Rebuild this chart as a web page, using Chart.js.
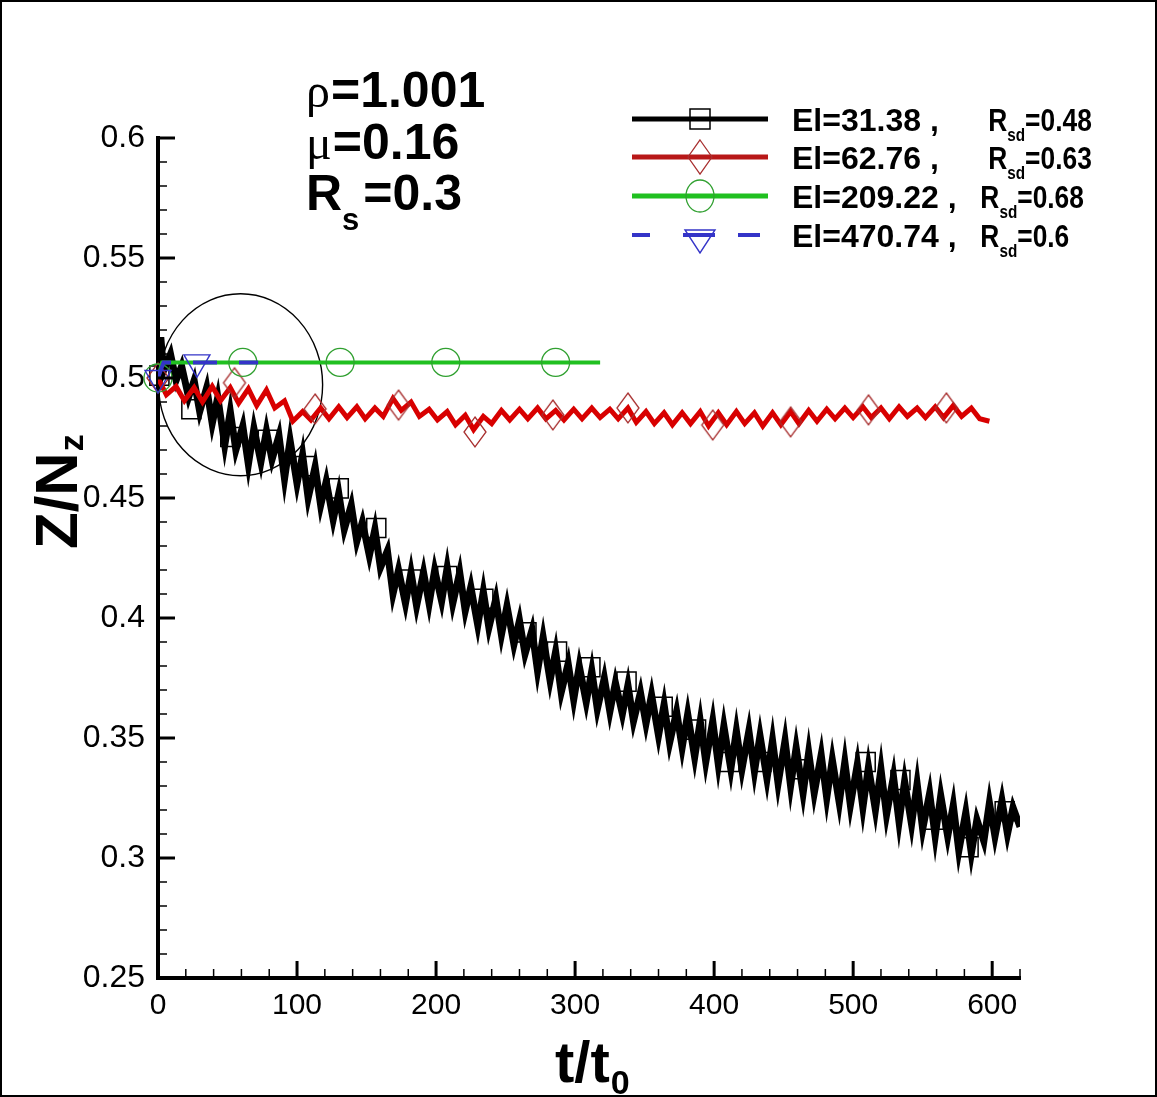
<!DOCTYPE html>
<html><head><meta charset="utf-8">
<script src="https://cdn.jsdelivr.net/npm/chart.js@4.4.1/dist/chart.umd.min.js"></script>
<style>html,body{margin:0;padding:0;background:#fff;}canvas{display:block;}</style>
</head><body>
<canvas id="c" width="1157" height="1097"></canvas>
<script>
// ---------------- DATA ----------------
const blackT = [0,2,4,9,13,17,22,26,30,35,39,43,48,52,56,61,65,69,74,78,82,87,91,95,100,104,108,113,117,121,126,130,134,139,143,147,152,156,160,165,169,173,178,182,186,191,195,199,204,208,212,217,221,225,230,234,238,243,247,251,256,260,264,269,273,277,282,286,290,295,299,303,308,312,316,321,325,329,334,338,342,347,351,355,360,364,368,373,377,381,386,390,394,399,403,407,412,416,420,425,429,433,438,442,446,451,455,459,464,468,472,477,481,485,490,494,498,503,507,511,516,520,524,529,533,537,542,546,550,555,559,563,568,572,576,581,585,589,594,598,602,607,611,615,620];
const blackZ = [0.500,0.517,0.503,0.510,0.499,0.505,0.492,0.499,0.486,0.496,0.481,0.492,0.472,0.486,0.470,0.480,0.464,0.479,0.465,0.478,0.466,0.476,0.458,0.474,0.456,0.468,0.450,0.463,0.447,0.457,0.441,0.452,0.437,0.447,0.432,0.440,0.426,0.437,0.421,0.428,0.410,0.420,0.406,0.419,0.405,0.419,0.406,0.420,0.407,0.421,0.406,0.419,0.403,0.413,0.397,0.411,0.396,0.408,0.393,0.405,0.389,0.399,0.385,0.395,0.378,0.392,0.374,0.386,0.369,0.381,0.366,0.380,0.365,0.378,0.362,0.375,0.361,0.373,0.360,0.372,0.357,0.369,0.356,0.368,0.351,0.364,0.348,0.361,0.346,0.360,0.342,0.357,0.340,0.357,0.339,0.355,0.337,0.353,0.337,0.353,0.336,0.351,0.333,0.349,0.331,0.349,0.330,0.346,0.327,0.344,0.327,0.343,0.325,0.341,0.323,0.340,0.322,0.339,0.321,0.338,0.320,0.337,0.318,0.334,0.315,0.332,0.314,0.331,0.312,0.327,0.309,0.326,0.309,0.322,0.303,0.319,0.302,0.316,0.307,0.323,0.309,0.324,0.310,0.321,0.313];
const blackMarkT = [1,24,52,79,106,130,157,182,208,234,265,287,311,337,363,387,411,434,460,509,534,558,583,609];
const blackMarkZ = [0.501,0.487,0.4754,0.4742,0.4633,0.454,0.4375,0.416,0.4175,0.408,0.394,0.386,0.3795,0.3735,0.363,0.3535,0.340,0.340,0.337,0.340,0.3325,0.316,0.3045,0.3195];

const redT = [0,6,13,19,26,32,39,45,52,58,65,71,78,84,91,97,104,110,117,123,130,136,143,149,156,162,169,175,182,188,195,201,208,214,221,227,234,240,247,253,260,266,273,279,286,292,299,305,312,318,325,331,338,344,351,357,364,370,377,383,390,396,403,409,416,422,429,435,442,448,455,461,468,474,481,487,494,500,507,513,520,526,533,539,546,552,559,565,572,578,585,591,598];
const redZ = [0.500,0.493,0.4965,0.4905,0.4960,0.4900,0.4965,0.4905,0.4960,0.4895,0.4955,0.4885,0.4950,0.4875,0.4905,0.4820,0.4860,0.4825,0.4875,0.4830,0.4880,0.4835,0.4880,0.4830,0.4875,0.4840,0.4915,0.4865,0.4900,0.4840,0.4870,0.4825,0.4860,0.4805,0.4845,0.4785,0.4840,0.4810,0.4865,0.4825,0.4870,0.4830,0.4875,0.4830,0.4865,0.4825,0.4870,0.4830,0.4875,0.4835,0.4870,0.4830,0.4875,0.4815,0.4860,0.4810,0.4855,0.4805,0.4855,0.4810,0.4860,0.4800,0.4855,0.4805,0.4860,0.4810,0.4855,0.4800,0.4855,0.4805,0.4860,0.4810,0.4865,0.4820,0.4870,0.4830,0.4875,0.4835,0.4880,0.4835,0.4875,0.4830,0.4880,0.4840,0.4875,0.4835,0.4880,0.4835,0.4885,0.4840,0.4875,0.4830,0.4820];
const redMarkT = [0,55,113,173,228,284,338,399,455,511,567];
const redMarkZ = [0.500,0.498,0.4871,0.4887,0.4775,0.4846,0.4875,0.4804,0.4817,0.4867,0.4875];

const greenT = [0,3,318];
const greenZ = [0.500,0.5065,0.5065];
const greenMarkT = [0,61,131,207,286];
const greenMarkZ = [0.500,0.5065,0.5065,0.5065,0.5065];

const blueT = [0,4,72];
const blueZ = [0.500,0.5065,0.5065];
const blueMarkT = [0,28];
const blueMarkZ = [0.500,0.5065];

const xTicks = [0,100,200,300,400,500,600];
const xMinor = [20,40,60,80,120,140,160,180,220,240,260,280,320,340,360,380,420,440,460,480,520,540,560,580,620];
const yTicks = [0.25,0.3,0.35,0.4,0.45,0.5,0.55,0.6];
const yTickLabels = ['0.25','0.3','0.35','0.4','0.45','0.5','0.55','0.6'];
const yMinor = [0.26,0.27,0.28,0.29,0.31,0.32,0.33,0.34,0.36,0.37,0.38,0.39,0.41,0.42,0.43,0.44,0.46,0.47,0.48,0.49,0.51,0.52,0.53,0.54,0.56,0.57,0.58,0.59];

const legendEl = ['El=31.38 ,     ','El=62.76 ,     ','El=209.22 ,  ','El=470.74 ,  '];
const legendRsd = ['=0.48','=0.63','=0.68','=0.6'];
const paramLines = [['\u03C1','=1.001'],['\u03BC','=0.16'],['R','=0.3']];
// highlighted region (ellipse) in data units: centre t, centre z, radius t, radius z
const highlight = {t:59.4, z:0.4972, rt:59, rz:0.0379};

// ---------------- STYLE ----------------
const SANS = '"Liberation Sans", Arial, sans-serif';
const SERIF = '"Liberation Serif", "DejaVu Serif", serif';
const C_BLACK='#000000', C_RED='#d80000', C_RED_M='#a83030', C_GREEN='#20c020', C_GREEN_M='#30a030', C_BLUE='#3434c8';

function diamondImg(w,h,color,lw){
  const c=document.createElement('canvas'); c.width=w+4; c.height=h+4;
  const g=c.getContext('2d'); g.strokeStyle=color; g.lineWidth=lw;
  g.beginPath(); g.moveTo(c.width/2,2); g.lineTo(c.width-2,c.height/2); g.lineTo(c.width/2,c.height-2); g.lineTo(2,c.height/2); g.closePath(); g.stroke();
  return c;
}
const diamondPlot = diamondImg(22,30,C_RED_M,1.3);

const xy = (ts,zs)=>ts.map((t,i)=>({x:t,y:zs[i]}));

const lineDs = (data,color,width,order,dash)=>({data,showLine:true,borderColor:color,borderWidth:width,pointRadius:0,pointHoverRadius:0,fill:false,tension:0,order,borderDash:dash||[],borderJoinStyle:'miter'});
const markDs = (data,style,radius,color,lw,order,rot)=>({data,showLine:false,pointStyle:style,pointRadius:radius,pointHoverRadius:radius,pointBorderColor:color,pointBackgroundColor:'rgba(0,0,0,0)',pointBorderWidth:lw,pointRotation:rot||0,order,clip:false});

function runs(ctx,x,y,parts){
  let cx=x;
  for(const p of parts){
    ctx.font=p.f; const sx=p.sx||1;
    ctx.save(); ctx.translate(cx,y+(p.dy||0)); ctx.scale(sx,1); ctx.fillText(p.t,0,0); ctx.restore();
    cx+=ctx.measureText(p.t).width*sx+(p.gap||0);
  }
  return cx;
}

const decor = {
  id:'decor',
  beforeDatasetsDraw(chart){
    const {ctx} = chart, xs=chart.scales.x, ys=chart.scales.y;
    const cx=xs.getPixelForValue(highlight.t), cy=ys.getPixelForValue(highlight.z);
    const rx=Math.abs(xs.getPixelForValue(highlight.t+highlight.rt)-cx);
    const ry=Math.abs(ys.getPixelForValue(highlight.z+highlight.rz)-cy);
    ctx.save(); ctx.strokeStyle='#000'; ctx.lineWidth=1.4;
    ctx.beginPath(); ctx.ellipse(cx,cy,rx,ry,0,0,Math.PI*2); ctx.stroke(); ctx.restore();
  },
  afterDraw(chart){
    const {ctx, chartArea:ca} = chart, xs=chart.scales.x, ys=chart.scales.y;
    ctx.save();
    ctx.strokeStyle='#000';
    // inward ticks
    const tick=(x1,y1,x2,y2,w)=>{ctx.lineWidth=w;ctx.beginPath();ctx.moveTo(x1,y1);ctx.lineTo(x2,y2);ctx.stroke();};
    xTicks.forEach(v=>{const p=xs.getPixelForValue(v);tick(p,ca.bottom,p,ca.bottom-17,3);});
    xMinor.forEach(v=>{const p=xs.getPixelForValue(v);tick(p,ca.bottom,p,ca.bottom-9,1.5);});
    yTicks.forEach(v=>{const p=ys.getPixelForValue(v);tick(ca.left,p,ca.left+17,p,3);});
    yMinor.forEach(v=>{const p=ys.getPixelForValue(v);tick(ca.left,p,ca.left+9,p,1.5);});

    ctx.fillStyle='#000'; ctx.textBaseline='alphabetic'; ctx.textAlign='left';
    // parameter annotations
    const bF='bold 50px '+SANS, gF='48px '+SERIF;
    runs(ctx,306,107,[{t:paramLines[0][0],f:gF,gap:1},{t:paramLines[0][1],f:bF}]);
    runs(ctx,306,159,[{t:paramLines[1][0],f:gF,gap:1},{t:paramLines[1][1],f:bF}]);
    runs(ctx,306,210,[{t:paramLines[2][0],f:bF},{t:'s',f:'bold 31px '+SANS,dy:20,gap:4},{t:paramLines[2][1],f:bF}]);

    // legend
    const rowsY=[119,157,196,235];
    const rowGap=[5,5,6,6];
    const lx0=632, lx1=768, mx=700;
    const colors=[C_BLACK,'#b81818',C_GREEN,C_BLUE];
    rowsY.forEach((y,i)=>{
      ctx.strokeStyle=colors[i]; ctx.lineWidth= i===3?4:5; ctx.setLineDash([]);
      if(i===3){
        [[632,650],[683,715],[738,760]].forEach(s=>{ctx.beginPath();ctx.moveTo(s[0],y);ctx.lineTo(s[1],y);ctx.stroke();});
      } else { ctx.beginPath(); ctx.moveTo(lx0,y); ctx.lineTo(lx1,y); ctx.stroke(); }
      ctx.lineWidth=1.5;
      if(i===0){ctx.strokeStyle='#000';ctx.strokeRect(mx-10,y-10,20,20);}
      if(i===1){ctx.strokeStyle=C_RED_M;ctx.lineWidth=1.3;ctx.beginPath();ctx.moveTo(mx,y-17);ctx.lineTo(mx+12,y);ctx.lineTo(mx,y+17);ctx.lineTo(mx-12,y);ctx.closePath();ctx.stroke();}
      if(i===2){ctx.strokeStyle=C_GREEN_M;ctx.lineWidth=1.3;ctx.beginPath();ctx.ellipse(mx,y,14,16,0,0,Math.PI*2);ctx.stroke();}
      if(i===3){ctx.strokeStyle=C_BLUE;ctx.lineWidth=1.4;ctx.beginPath();ctx.moveTo(mx-15,y-5);ctx.lineTo(mx+15,y-5);ctx.lineTo(mx,y+18);ctx.closePath();ctx.stroke();}
      ctx.fillStyle='#000';
      runs(ctx,792,y+12,[{t:legendEl[i],f:'bold 32px '+SANS,gap:rowGap[i]},{t:'R',f:'bold 31px '+SANS,sx:0.85},{t:'sd',f:'bold 18px '+SANS,dy:10,sx:0.85},{t:legendRsd[i],f:'bold 31px '+SANS,sx:0.85}]);
    });

    // axis titles
    ctx.save(); ctx.translate(77,549); ctx.rotate(-Math.PI/2);
    runs(ctx,0,0,[{t:'Z/N',f:'bold 60px '+SANS,gap:1},{t:'z',f:'bold 34px '+SANS,dy:6}]);
    ctx.restore();
    runs(ctx,555,1082,[{t:'t/t',f:'bold 58px '+SANS,gap:1},{t:'0',f:'bold 34px '+SANS,dy:12}]);

    // outer frame
    ctx.strokeStyle='#000'; ctx.lineWidth=2; ctx.setLineDash([]);
    ctx.strokeRect(1,1,chart.width-2,chart.height-2);
    ctx.restore();
  }
};

new Chart(document.getElementById('c'),{
  type:'scatter',
  data:{datasets:[
    lineDs(xy(blackT,blackZ),C_BLACK,7,8),
    markDs(xy(blackMarkT,blackMarkZ),'rect',13.5,C_BLACK,1.5,7),
    lineDs(xy(redT,redZ),C_RED,5,6),
    markDs(xy(redMarkT,redMarkZ),diamondPlot,14,C_RED_M,1.3,5),
    lineDs(xy(greenT,greenZ),C_GREEN,4,4),
    markDs(xy(greenMarkT,greenMarkZ),'circle',14,C_GREEN_M,1.3,3),
    lineDs(xy(blueT,blueZ),C_BLUE,4,2,[24,22]),
    markDs(xy(blueMarkT,blueMarkZ),'triangle',15,C_BLUE,1.4,1,180)
  ]},
  options:{
    responsive:false, animation:false, devicePixelRatio:1,
    layout:{padding:{left:0,right:137,top:138,bottom:0}},
    plugins:{legend:{display:false},tooltip:{enabled:false}},
    events:[],
    scales:{
      x:{type:'linear',min:0,max:620,
        afterBuildTicks:s=>{s.ticks=xTicks.map(v=>({value:v}));},
        afterFit:s=>{s.height=119;},
        grid:{display:false},border:{display:true,color:'#000',width:4},
        ticks:{color:'#000',font:{family:SANS,size:30},padding:2,maxRotation:0,autoSkip:false}},
      y:{type:'linear',min:0.25,max:0.6,
        afterBuildTicks:s=>{s.ticks=yTicks.map(v=>({value:v}));},
        afterFit:s=>{s.width=158;},
        grid:{display:false},border:{display:true,color:'#000',width:4},
        ticks:{color:'#000',font:{family:SANS,size:32},padding:5,autoSkip:false,
          callback:(v)=>{const i=yTicks.findIndex(t=>Math.abs(t-v)<1e-9);return i>=0?yTickLabels[i]:'';}}}
    }
  },
  plugins:[decor]
});
</script>
</body></html>
